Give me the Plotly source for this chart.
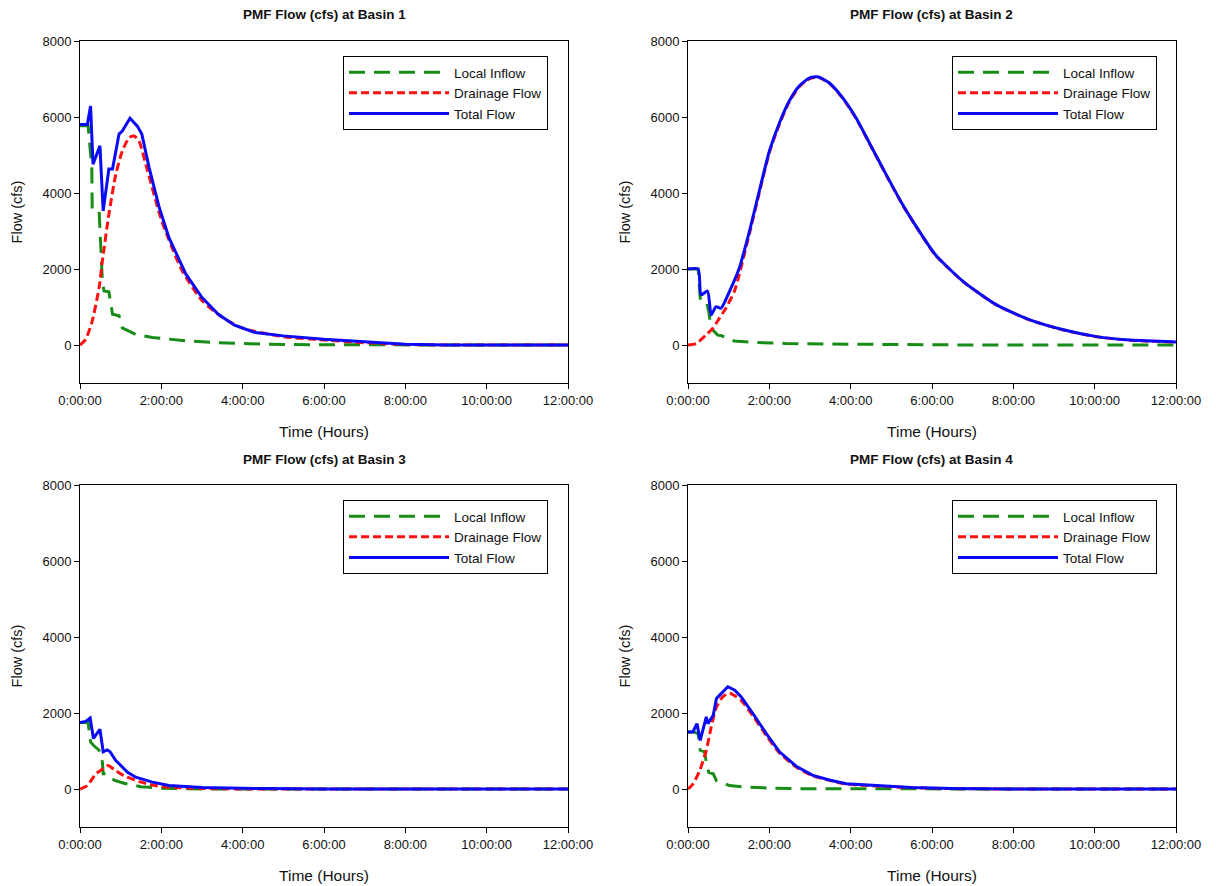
import plotly.graph_objects as go

# ---------------- data (time in hours, flow in cfs) ----------------
series_names = ["Local Inflow", "Drainage Flow", "Total Flow"]
panel_titles = ["PMF Flow (cfs) at Basin 1", "PMF Flow (cfs) at Basin 2",
                "PMF Flow (cfs) at Basin 3", "PMF Flow (cfs) at Basin 4"]
x_tick_vals = [0, 2, 4, 6, 8, 10, 12]
x_tick_text = ["0:00:00", "2:00:00", "4:00:00", "6:00:00", "8:00:00", "10:00:00", "12:00:00"]
y_tick_vals = [0, 2000, 4000, 6000, 8000]

# Basin 1
b1_local_t = [0, 0.20, 0.29, 0.30, 0.47, 0.55, 0.59, 0.71, 0.80, 0.96, 1.04, 1.21, 1.37, 1.78, 2.6, 3.4, 4.6, 6.0, 8.0, 12]
b1_local_q = [5770, 5770, 4670, 3570, 3530, 1680, 1420, 1400, 810, 770, 450, 370, 280, 200, 110, 60, 20, 5, 0, 0]
b1_drain_t = [0, 0.14, 0.30, 0.47, 0.55, 0.71, 0.88, 1.04, 1.21, 1.33, 1.45, 1.62, 2.0, 2.5, 3.0, 3.5, 4.0, 5.0, 6.0, 7.0, 8.0, 9.0, 12]
b1_drain_q = [0, 150, 630, 1510, 2210, 3440, 4490, 5100, 5460, 5500, 5370, 4750, 3300, 1980, 1170, 730, 440, 220, 130, 60, 15, 0, 0]
b1_total_t = [0, 0.18, 0.26, 0.32, 0.49, 0.57, 0.71, 0.80, 0.96, 1.04, 1.23, 1.41, 1.52, 1.70, 1.95, 2.19, 2.6, 3.0, 3.4, 3.8, 4.3, 5.0, 6.0, 7.0, 8.0, 9.0, 12]
b1_total_q = [5800, 5800, 6290, 4760, 5240, 3530, 4630, 4630, 5550, 5630, 5970, 5760, 5550, 4670, 3610, 2820, 1870, 1250, 810, 520, 330, 240, 150, 80, 20, 0, 0]

# Basin 2
b2_local_t = [0, 0.25, 0.30, 0.44, 0.51, 0.57, 0.73, 0.81, 0.98, 1.14, 1.6, 2.4, 3.5, 5.0, 7.0, 12]
b2_local_q = [2000, 2000, 1230, 1200, 880, 440, 260, 250, 175, 105, 70, 40, 25, 10, 0, 0]
b2_drain_t = [0, 0.2, 0.44, 0.61, 0.77, 0.93, 1.14, 1.26, 1.51, 1.75, 2.0, 2.25, 2.49, 2.74, 2.98, 3.19, 3.47, 3.80, 4.13, 4.46, 4.87, 5.28, 5.69, 6.08, 6.77, 7.59, 8.41, 9.23, 10.05, 10.87, 12]
b2_drain_q = [0, 40, 260, 440, 700, 970, 1410, 1850, 2930, 3990, 5060, 5820, 6400, 6800, 7005, 7050, 6890, 6500, 5970, 5310, 4480, 3680, 2980, 2370, 1665, 1050, 655, 395, 215, 125, 75]
b2_total_t = [0, 0.25, 0.32, 0.48, 0.57, 0.69, 0.81, 1.02, 1.26, 1.51, 1.75, 2.0, 2.25, 2.49, 2.74, 2.98, 3.19, 3.47, 3.80, 4.13, 4.46, 4.87, 5.28, 5.69, 6.08, 6.77, 7.59, 8.41, 9.23, 10.05, 10.87, 12]
b2_total_q = [2000, 2000, 1320, 1420, 790, 1010, 965, 1410, 2020, 2990, 4040, 5100, 5850, 6420, 6820, 7020, 7060, 6900, 6510, 5980, 5320, 4490, 3690, 2990, 2380, 1670, 1055, 660, 400, 220, 130, 80]

# Basin 3
b3_local_t = [0, 0.20, 0.26, 0.33, 0.47, 0.55, 0.57, 0.67, 0.84, 1.08, 1.5, 2.0, 3.0, 12]
b3_local_q = [1750, 1750, 1240, 1150, 1020, 710, 400, 400, 230, 150, 60, 20, 0, 0]
b3_drain_t = [0, 0.18, 0.39, 0.51, 0.69, 0.84, 1.08, 1.5, 1.8, 2.2, 3.0, 4.0, 12]
b3_drain_q = [0, 90, 400, 490, 620, 510, 350, 180, 100, 45, 15, 0, 0]
b3_total_t = [0, 0.14, 0.25, 0.33, 0.49, 0.57, 0.67, 0.74, 0.88, 1.0, 1.17, 1.37, 1.78, 2.19, 3.0, 4.6, 6.0, 12]
b3_total_q = [1750, 1780, 1870, 1330, 1570, 980, 1030, 980, 750, 620, 440, 310, 180, 90, 40, 10, 0, 0]

# Basin 4
b4_local_t = [0, 0.15, 0.25, 0.30, 0.41, 0.45, 0.51, 0.62, 0.70, 0.82, 1.02, 1.43, 2.0, 3.0, 12]
b4_local_q = [1500, 1500, 1450, 1020, 980, 700, 440, 400, 220, 180, 90, 50, 25, 5, 0]
b4_drain_t = [0, 0.12, 0.29, 0.45, 0.57, 0.70, 0.86, 1.02, 1.19, 1.31, 1.60, 1.93, 2.25, 2.66, 3.07, 3.5, 3.89, 4.71, 5.5, 6.5, 8, 12]
b4_drain_q = [0, 130, 490, 1020, 1630, 2160, 2430, 2520, 2430, 2330, 1920, 1400, 950, 580, 345, 220, 130, 75, 35, 10, 0, 0]
b4_total_t = [0, 0.12, 0.22, 0.30, 0.45, 0.49, 0.62, 0.70, 0.78, 0.98, 1.15, 1.31, 1.60, 1.93, 2.25, 2.66, 3.07, 3.5, 3.89, 4.71, 5.5, 6.5, 8, 12]
b4_total_q = [1500, 1500, 1720, 1280, 1900, 1720, 1940, 2380, 2470, 2690, 2600, 2420, 1980, 1450, 980, 600, 360, 230, 140, 80, 40, 15, 0, 0]

basins = [
    [(b1_local_t, b1_local_q), (b1_drain_t, b1_drain_q), (b1_total_t, b1_total_q)],
    [(b2_local_t, b2_local_q), (b2_drain_t, b2_drain_q), (b2_total_t, b2_total_q)],
    [(b3_local_t, b3_local_q), (b3_drain_t, b3_drain_q), (b3_total_t, b3_total_q)],
    [(b4_local_t, b4_local_q), (b4_drain_t, b4_drain_q), (b4_total_t, b4_total_q)],
]

# ---------------- styling ----------------
W, H = 1216, 886
OFF = 8  # page body margin offset
FONT = "Liberation Sans, Arial, Helvetica, sans-serif"
line_styles = [
    dict(color="#178c17", width=3, dash="16px,9px"),
    dict(color="#ff1010", width=3, dash="8px,4px"),
    dict(color="#0a0af5", width=3, dash="solid"),
]
# smooth series use splines; jagged ones stay linear
line_shapes = [
    ["linear", "spline", "linear"],
    ["linear", "spline", "spline"],
    ["linear", "spline", "linear"],
    ["linear", "spline", "linear"],
]

# pixel boxes of the four plot areas (left, right, top, bottom) in screen px
boxes = [(80, 568, 41, 383), (688, 1176, 41, 383),
         (80, 568, 485, 827), (688, 1176, 485, 827)]
legend_pos = [(343, 56), (952, 56), (343, 500), (952, 500)]
title_y = [15, 15, 460, 460]


def px_x(v):
    return (v - OFF) / W


def px_y(v):
    return (H - (v - OFF)) / H


fig = go.Figure()
layout = dict(
    width=W, height=H,
    margin=dict(l=0, r=0, t=0, b=0),
    paper_bgcolor="white", plot_bgcolor="white",
    font=dict(family=FONT, size=13, color="#111111"),
    annotations=[],
)

for i, series in enumerate(basins):
    xa = "x" if i == 0 else f"x{i+1}"
    ya = "y" if i == 0 else f"y{i+1}"
    lg = "legend" if i == 0 else f"legend{i+1}"
    for k, ((t, q), name, st) in enumerate(zip(series, series_names, line_styles)):
        fig.add_trace(go.Scatter(
            x=t, y=q, mode="lines", name=name,
            line=dict(st, shape=line_shapes[i][k], smoothing=0.6),
            xaxis=xa, yaxis=ya, legend=lg, showlegend=True,
            hoverinfo="skip",
        ))
    l, r, tp, bt = boxes[i]
    xkey = "xaxis" if i == 0 else f"xaxis{i+1}"
    ykey = "yaxis" if i == 0 else f"yaxis{i+1}"
    layout[xkey] = dict(
        domain=[px_x(l), px_x(r)], anchor=ya, range=[0, 12],
        tickvals=x_tick_vals, ticktext=x_tick_text,
        ticks="outside", ticklen=5, tickcolor="black", tickwidth=1,
        showline=True, linecolor="black", linewidth=1, mirror=True,
        showgrid=False, zeroline=False, automargin=False,
        tickfont=dict(size=13, color="#111111"),
        title=dict(text="Time (Hours)", font=dict(size=15.5, color="#111111"), standoff=19),
    )
    layout[ykey] = dict(
        domain=[px_y(bt), px_y(tp)], anchor=xa, range=[-1000, 8000],
        tickvals=y_tick_vals,
        ticks="outside", ticklen=5, tickcolor="black", tickwidth=1,
        showline=True, linecolor="black", linewidth=1, mirror=True,
        showgrid=False, zeroline=False, automargin=False,
        tickfont=dict(size=13, color="#111111"),
        title=dict(text="Flow (cfs)", font=dict(size=14.5, color="#111111"), standoff=16),
    )
    lx, ly = legend_pos[i]
    layout[lg] = dict(
        x=px_x(lx), y=px_y(ly), xanchor="left", yanchor="top",
        bgcolor="white", bordercolor="black", borderwidth=1,
        font=dict(size=13.5, color="#111111"), itemwidth=100,
        tracegroupgap=0, traceorder="normal",
    )
    layout["annotations"].append(dict(
        text=f"<b>{panel_titles[i]}</b>", xref="paper", yref="paper",
        x=px_x((l + r) / 2), y=px_y(title_y[i]), xanchor="center", yanchor="middle",
        showarrow=False, font=dict(size=13.5, color="#111111"),
    ))

fig.update_layout(**layout)
fig.write_html("out.html")
